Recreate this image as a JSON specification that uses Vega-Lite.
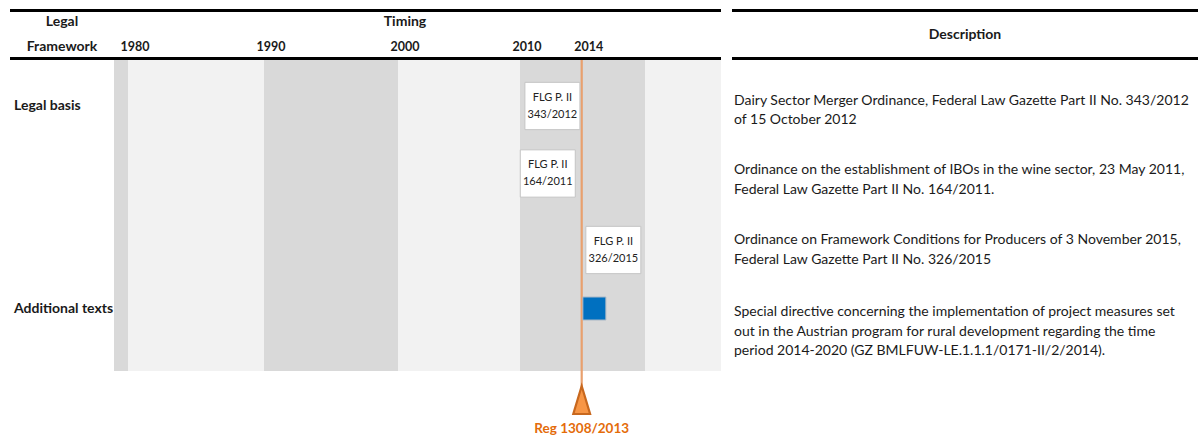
{
  "$schema": "https://vega.github.io/schema/vega-lite/v6.json",
  "width": 1198,
  "height": 436,
  "autosize": {"type": "fit", "contains": "padding"},
  "padding": 0,
  "background": "white",
  "view": {"stroke": null},
  "config": {"font": "Lato", "text": {"font": "Lato", "color": "#1a1a1a"}},
  "datasets": {
    "bands": [
      {"year": 1979, "year_end": 1980, "row": 3, "row_end": 8, "shade": "dark"},
      {"year": 1980, "year_end": 1990, "row": 3, "row_end": 8, "shade": "light"},
      {"year": 1990, "year_end": 2000, "row": 3, "row_end": 8, "shade": "dark"},
      {"year": 2000, "year_end": 2010, "row": 3, "row_end": 8, "shade": "light"},
      {"year": 2010, "year_end": 2020, "row": 3, "row_end": 8, "shade": "dark"},
      {"year": 2020, "year_end": 2026, "row": 3, "row_end": 8, "shade": "light"}
    ],
    "reg": [
      {"year": 2014, "row": 3, "row_end": 9, "triangle_row": 9, "label_row": 10, "label": "Reg 1308/2013"}
    ],
    "flg": [
      {"year": 2012.1, "row": 4, "lines": ["FLG P. II", "343/2012"]},
      {"year": 2011.8, "row": 5, "lines": ["FLG P. II", "164/2011"]},
      {"year": 2017.0, "row": 6, "lines": ["FLG P. II", "326/2015"]}
    ],
    "additional": [
      {"year": 2015.2, "row": 7, "item": "Special directive 2014-2020"}
    ],
    "years": [
      {"year": 1980, "row": 2, "label": "1980"},
      {"year": 1990, "row": 2, "label": "1990"},
      {"year": 2000, "row": 2, "label": "2000"},
      {"year": 2010, "row": 2, "label": "2010"},
      {"year": 2014, "row": 2, "label": "2014"}
    ],
    "timing": [
      {"year": 2000, "row": 1, "label": "Timing"}
    ],
    "rules": [
      {"col": 0, "col_end": 2, "row": 0},
      {"col": 0, "col_end": 2, "row": 3},
      {"col": 3, "col_end": 4, "row": 0},
      {"col": 3, "col_end": 4, "row": 3}
    ],
    "headers": [
      {"col": 0.5, "row": 1, "lines": ["Legal", "Framework"]},
      {"col": 3.5, "row": 1.5, "lines": ["Description"]}
    ],
    "descriptions": [
      {"col": 3, "row": 4, "lines": ["Dairy Sector Merger Ordinance, Federal Law Gazette Part II No. 343/2012", "of 15 October 2012"]},
      {"col": 3, "row": 5, "lines": ["Ordinance on the establishment of IBOs in the wine sector, 23 May 2011,", "Federal Law Gazette Part II No. 164/2011."]},
      {"col": 3, "row": 6, "lines": ["Ordinance on Framework Conditions for Producers of 3 November 2015,", "Federal Law Gazette Part II No. 326/2015"]},
      {"col": 3, "row": 7, "lines": ["Special directive concerning the implementation of project measures set", "out in the Austrian program for rural development regarding the time", "period 2014-2020 (GZ BMLFUW-LE.1.1.1/0171-II/2/2014)."]}
    ],
    "sections": [
      {"col": 0, "row": 4, "label": "Legal basis"},
      {"col": 0, "row": 7, "label": "Additional texts"}
    ]
  },
  "layer": [
    {
      "encoding": {
        "x": {"field": "year", "type": "quantitative", "axis": null,
              "scale": {"domain": [1979, 1980, 1990, 2000, 2010, 2014, 2020, 2026], "range": [114, 128, 264, 398, 520, 581.7, 645, 721], "zero": false, "nice": false}},
        "y": {"field": "row", "type": "quantitative", "axis": null,
              "scale": {"domain": [1, 2, 3, 4, 5, 6, 7, 8, 9, 10], "range": [22, 47, 58.5, 106, 173.5, 250, 308.5, 371, 400, 429], "zero": false, "nice": false}}
      },
      "layer": [
        {
          "data": {"name": "bands"},
          "mark": {"type": "rect"},
          "encoding": {
            "x2": {"field": "year_end"},
            "y2": {"field": "row_end"},
            "color": {"field": "shade", "type": "nominal", "legend": null,
                      "scale": {"domain": ["dark", "light"], "range": ["#D9D9D9", "#F2F2F2"]}}
          }
        },
        {
          "data": {"name": "reg"},
          "mark": {"type": "rule", "color": "#E9A06E", "strokeWidth": 2.2},
          "encoding": {"y2": {"field": "row_end"}}
        },
        {
          "data": {"name": "flg"},
          "mark": {"type": "point", "shape": "M-1,-0.86H1V0.86H-1Z", "size": 3025, "filled": true, "fill": "white", "stroke": "#C4C4C4", "strokeWidth": 1, "opacity": 1}
        },
        {
          "data": {"name": "flg"},
          "mark": {"type": "text", "fontSize": 11, "lineHeight": 17, "baseline": "middle", "align": "center", "dy": -8.5, "color": "#222222"},
          "encoding": {"text": {"field": "lines"}}
        },
        {
          "data": {"name": "additional"},
          "mark": {"type": "point", "shape": "square", "size": 529, "filled": true, "fill": "#0070C0", "stroke": "#A9B7C6", "strokeWidth": 1, "opacity": 1}
        },
        {
          "data": {"name": "reg"},
          "mark": {"type": "point", "shape": "M0,-1L0.6,1L-0.6,1Z", "size": 784, "filled": true, "fill": "#F79646", "stroke": "#C8681E", "strokeWidth": 2.2, "opacity": 1},
          "encoding": {"y": {"field": "triangle_row", "type": "quantitative"}}
        },
        {
          "data": {"name": "reg"},
          "mark": {"type": "text", "fontSize": 13.5, "fontWeight": "bold", "color": "#E46C0A", "baseline": "middle", "align": "center"},
          "encoding": {"y": {"field": "label_row", "type": "quantitative"}, "text": {"field": "label"}}
        },
        {
          "data": {"name": "years"},
          "mark": {"type": "text", "fontSize": 12.5, "fontWeight": "bold", "baseline": "middle", "align": "center", "dx": 7},
          "encoding": {"text": {"field": "label"}}
        },
        {
          "data": {"name": "timing"},
          "mark": {"type": "text", "fontSize": 14, "fontWeight": "bold", "baseline": "middle", "align": "center", "dx": 7},
          "encoding": {"text": {"field": "label"}}
        }
      ]
    },
    {
      "encoding": {
        "x": {"field": "col", "type": "quantitative", "axis": null,
              "scale": {"domain": [0, 1, 2, 3, 4], "range": [10, 114, 721, 732, 1198], "zero": false, "nice": false}},
        "y": {"field": "row", "type": "quantitative", "axis": null,
              "scale": {"domain": [0, 1, 2, 3, 4, 5, 6, 7], "range": [10.5, 22, 47, 58.5, 100.5, 170, 240, 312], "zero": false, "nice": false}}
      },
      "layer": [
        {
          "data": {"name": "rules"},
          "mark": {"type": "rule", "color": "black", "strokeWidth": 3},
          "encoding": {"x2": {"field": "col_end"}}
        },
        {
          "data": {"name": "headers"},
          "mark": {"type": "text", "fontSize": 14, "fontWeight": "bold", "lineHeight": 25, "baseline": "middle", "align": "center"},
          "encoding": {"text": {"field": "lines"}}
        },
        {
          "data": {"name": "descriptions"},
          "mark": {"type": "text", "fontSize": 14, "lineHeight": 19.5, "baseline": "middle", "align": "left", "dx": 2},
          "encoding": {"text": {"field": "lines"}}
        }
      ]
    },
    {
      "data": {"name": "sections"},
      "mark": {"type": "text", "fontSize": 14, "fontWeight": "bold", "baseline": "middle", "align": "left", "dx": 4},
      "encoding": {
        "x": {"field": "col", "type": "quantitative", "axis": null,
              "scale": {"domain": [0, 1, 2, 3, 4], "range": [10, 114, 721, 732, 1198], "zero": false, "nice": false}},
        "y": {"field": "row", "type": "quantitative", "axis": null,
              "scale": {"domain": [1, 2, 3, 4, 5, 6, 7, 8, 9, 10], "range": [22, 47, 58.5, 106, 173.5, 250, 308.5, 371, 400, 429], "zero": false, "nice": false}},
        "text": {"field": "label"}
      }
    }
  ],
  "resolve": {"scale": {"x": "independent", "y": "independent"}}
}
